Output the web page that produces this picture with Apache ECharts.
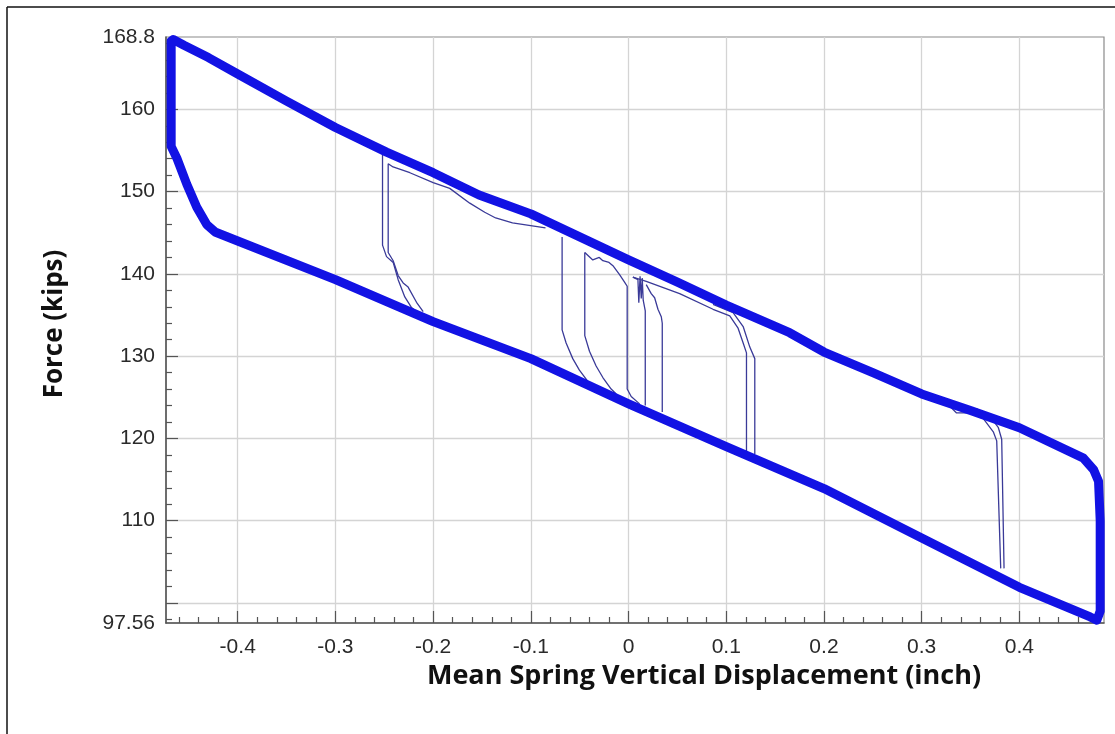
<!DOCTYPE html>
<html>
<head>
<meta charset="utf-8">
<script src="https://cdn.jsdelivr.net/npm/echarts@6/dist/echarts.min.js"></script>
<style>
html,body{margin:0;padding:0;background:#fff;}
#chart{width:1115px;height:734px;}
</style>
</head>
<body>
<div id="chart"></div>
<script>
// ---- Data ----
// Main hysteresis band: upper branch (left -> right)
const upperX = [-0.4681, -0.466, -0.455, -0.43, -0.4, -0.35, -0.3, -0.2477, -0.2, -0.153, -0.1, -0.05, 0, 0.05, 0.1, 0.1648, 0.2, 0.25, 0.3, 0.35, 0.4, 0.4656, 0.476, 0.481, 0.4827, 0.4827, 0.4793];
const upperY = [168.3, 168.5, 167.8, 166.3, 164.3, 161.0, 157.8, 154.8, 152.3, 149.6, 147.3, 144.5, 141.7, 139.0, 136.2, 132.85, 130.5, 128.0, 125.4, 123.4, 121.3, 117.6, 116.2, 114.8, 110.0, 99.0, 97.9];
// lower branch (right -> left)
const lowerX = [0.4725, 0.4, 0.3, 0.2, 0.1, 0, -0.1, -0.2, -0.3, -0.4, -0.4232, -0.4317, -0.4419, -0.4521, -0.4624, -0.4681, -0.4681];
const lowerY = [98.3, 101.9, 107.9, 113.9, 119.0, 124.2, 129.7, 134.2, 139.3, 144.0, 145.1, 146.0, 148.1, 150.9, 154.1, 155.5, 168.3];

// Thin partial loops
const loopA1X = [-0.2518, -0.2518, -0.2477, -0.2409, -0.2358, -0.229, -0.2221, -0.218];
const loopA1Y = [154.9, 143.5, 142.1, 141.4, 139.3, 137.2, 135.9, 135.5];
const loopA2X = [-0.085, -0.1188, -0.136, -0.1472, -0.1625, -0.183, -0.2, -0.2238, -0.241, -0.246, -0.246, -0.2409, -0.2358, -0.2307, -0.2256, -0.217, -0.2102];
const loopA2Y = [145.6, 146.2, 146.8, 147.5, 148.6, 150.4, 151.1, 152.3, 153.0, 153.4, 142.6, 141.6, 139.8, 138.9, 138.4, 136.55, 135.4];
const loopBX = [-0.068, -0.068, -0.0639, -0.0571, -0.0503, -0.0434, -0.040];
const loopBY = [144.5, 133.2, 131.6, 129.7, 128.3, 127.2, 126.6];
const loopCX = [-0.0448, -0.0448, -0.04, -0.0332, -0.0263, -0.0178, -0.0126];
const loopCY = [142.6, 132.5, 130.6, 128.8, 127.4, 126.0, 125.4];
const loopDX = [-0.0448, -0.0366, -0.03, -0.0263, -0.02, -0.016, -0.0092, -0.0041, -0.0014, -0.0014, 0.0027, 0.0113];
const loopDY = [142.6, 141.7, 142.0, 141.6, 141.4, 141.0, 139.9, 139.0, 138.5, 126.0, 125.1, 124.2];
const loopEX = [0.0044, 0.0096, 0.0105, 0.0118, 0.0130, 0.0140, 0.0150, 0.0171, 0.0171];
const loopEY = [139.6, 139.3, 136.5, 139.7, 137.0, 139.5, 136.8, 135.5, 124.0];
const loopFX = [0.0181, 0.0232, 0.0267, 0.0301, 0.0335, 0.0345, 0.0345];
const loopFY = [138.7, 137.6, 137.1, 135.7, 134.8, 134.0, 123.2];
const loopG1X = [0.0044, 0.0181, 0.0523, 0.0865, 0.1036, 0.1121, 0.1173, 0.1207, 0.1207];
const loopG1Y = [139.6, 139.1, 137.6, 135.7, 134.9, 133.4, 131.6, 130.4, 118.4];
const loopG2X = [0.0865, 0.107, 0.1173, 0.1241, 0.1292, 0.1292];
const loopG2Y = [136.3, 135.3, 133.6, 131.1, 129.7, 118.1];
const loopH1X = [0.3255, 0.3357, 0.3494, 0.3631, 0.3733, 0.3768, 0.3809];
const loopH1Y = [124.3, 123.1, 123.1, 122.4, 120.8, 119.7, 104.2];
const loopH2X = [0.3562, 0.3699, 0.3785, 0.3819, 0.3843];
const loopH2Y = [123.6, 122.7, 121.3, 119.9, 104.2];

// Axes
const xMin = -0.4734, xMax = 0.4866;
const yMin = 97.56, yMax = 168.8;
const xMajorTicks = [-0.4, -0.3, -0.2, -0.1, 0, 0.1, 0.2, 0.3, 0.4];
const xMinorTicks = [-0.46,-0.44,-0.42,-0.38,-0.36,-0.34,-0.32,-0.28,-0.26,-0.24,-0.22,-0.18,-0.16,-0.14,-0.12,-0.08,-0.06,-0.04,-0.02,0.02,0.04,0.06,0.08,0.12,0.14,0.16,0.18,0.22,0.24,0.26,0.28,0.32,0.34,0.36,0.38,0.42,0.44,0.46,0.48];
const yMajorTicks = [100, 110, 120, 130, 140, 150, 160];
const yLabels = [97.56, 110, 120, 130, 140, 150, 160, 168.8];
const yMinorTicks = [98,102,104,106,108,112,114,116,118,122,124,126,128,132,134,136,138,142,144,146,148,152,154,156,158,162,164,166,168];

function zip(xs, ys){ return xs.map((x,i)=>[x, ys[i]]); }
const mainLoop = zip(upperX, upperY).concat(zip(lowerX, lowerY));
const thinLoops = [
  zip(loopA1X, loopA1Y), zip(loopA2X, loopA2Y), zip(loopBX, loopBY), zip(loopCX, loopCY),
  zip(loopDX, loopDY), zip(loopEX, loopEY), zip(loopFX, loopFY), zip(loopG1X, loopG1Y),
  zip(loopG2X, loopG2Y), zip(loopH1X, loopH1Y), zip(loopH2X, loopH2Y)
];

const chart = echarts.init(document.getElementById('chart'), null, {renderer:'canvas'});
const labelFont = {fontFamily:'Liberation Sans, Arial, sans-serif', fontSize:21, color:'#2a2a2a'};
const series = thinLoops.map(d => ({
  type:'line', data:d, showSymbol:false, symbol:'none', animation:false, z:2,
  lineStyle:{width:1.3, color:'#3a3a98'}
}));
series.push({
  type:'line', data:mainLoop, showSymbol:false, symbol:'none', animation:false, z:3,
  lineStyle:{width:9, color:'#1212e4', join:'round', cap:'round'}
});

chart.setOption({
  animation:false,
  backgroundColor:'#fff',
  grid:{left:166, right:11, top:37, bottom:111, show:true, borderColor:'#8a8a8a', borderWidth:1.2, containLabel:false},
  xAxis:[{
    type:'value', min:xMin, max:xMax, position:'bottom',
    axisLine:{show:true, onZero:false, lineStyle:{color:'#555', width:1.5}},
    axisTick:{show:true, inside:true, length:12, customValues:xMajorTicks, lineStyle:{color:'#555', width:1.2}},
    axisLabel:Object.assign({show:true, margin:14, customValues:xMajorTicks,
      formatter:v=>{const r=Math.round(v*10)/10; return r===0?'0':String(r);}}, labelFont),
    splitLine:{show:true, lineStyle:{color:'#d4d4d4', width:1.3}}
  },{
    type:'value', min:xMin, max:xMax, position:'bottom',
    axisLine:{show:false, onZero:false},
    axisTick:{show:true, inside:true, length:6, customValues:xMinorTicks, lineStyle:{color:'#555', width:1.2}},
    axisLabel:{show:false}, splitLine:{show:false}
  }],
  yAxis:[{
    type:'value', min:yMin, max:yMax, position:'left',
    axisLine:{show:true, onZero:false, lineStyle:{color:'#555', width:1.5}},
    axisTick:{show:true, inside:true, length:12, customValues:yMajorTicks, lineStyle:{color:'#555', width:1.2}},
    axisLabel:Object.assign({show:true, margin:11, customValues:yLabels,
      formatter:v=>String(Math.round(v*100)/100)}, labelFont),
    splitLine:{show:true, lineStyle:{color:'#d4d4d4', width:1.3}}
  },{
    type:'value', min:yMin, max:yMax, position:'left',
    axisLine:{show:false, onZero:false},
    axisTick:{show:true, inside:true, length:6, customValues:yMinorTicks, lineStyle:{color:'#555', width:1.2}},
    axisLabel:{show:false}, splitLine:{show:false}
  }],
  series: series,
  graphic:[
    {type:'line', shape:{x1:7, y1:7, x2:1115, y2:7}, style:{stroke:'#111', lineWidth:1.5}, z:10},
    {type:'line', shape:{x1:7, y1:7, x2:7, y2:734}, style:{stroke:'#111', lineWidth:1.5}, z:10},
    {type:'text', x:704, y:676, style:{text:'Mean Spring Vertical Displacement (inch)', font:'bold 27px "Open Sans", sans-serif', fill:'#111', textAlign:'center', textVerticalAlign:'middle'}},
    {type:'text', x:55, y:324, rotation:Math.PI/2, style:{text:'Force (kips)', font:'bold 26px "Open Sans", sans-serif', fill:'#111', textAlign:'center', textVerticalAlign:'middle'}}
  ]
});
</script>
</body>
</html>
